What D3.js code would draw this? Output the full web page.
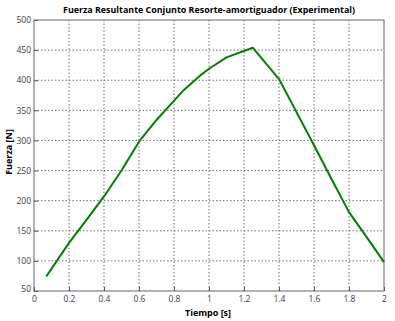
<!DOCTYPE html>
<html>
<head>
<meta charset="utf-8">
<script src="https://cdn.jsdelivr.net/npm/d3@7"></script>
<style>
  body { margin: 0; background: #fff; }
  text { font-family: "Open Sans", "DejaVu Sans", sans-serif; }
</style>
</head>
<body>
<svg width="395" height="321"></svg>
<script>
// data
let tiempo = [0.07, 0.2, 0.3, 0.4, 0.5, 0.6, 0.7, 0.75, 0.85, 0.95, 1.0, 1.1, 1.25, 1.4, 1.5, 1.6, 1.7, 1.8, 1.9, 2.0];
let fuerza = [74, 130, 168, 207, 250, 298, 334, 350, 382, 408, 419, 438, 454, 402, 347, 292, 236, 181, 140, 98];
let xTicks = [0, 0.2, 0.4, 0.6, 0.8, 1, 1.2, 1.4, 1.6, 1.8, 2];
let yTicks = [50, 100, 150, 200, 250, 300, 350, 400, 450, 500];
let title = "Fuerza Resultante Conjunto Resorte-amortiguador (Experimental)";

let margin = {left: 34, right: 11, top: 20, bottom: 30},
    svgWidth = 395,
    svgHeight = 321;

let svg = d3.select("svg");

let x = d3.scaleLinear().domain([0, 2]).range([margin.left, svgWidth - margin.right]);
let y = d3.scaleLinear().domain([50, 500]).range([svgHeight - margin.bottom, margin.top]);

// grid
svg.append("g").selectAll("line").data(xTicks.slice(1, -1)).enter()
  .append("line")
    .attr("x1", d => x(d)).attr("x2", d => x(d))
    .attr("y1", y(50)).attr("y2", y(500))
    .attr("stroke", "#6e6e6e").attr("stroke-width", 1)
    .attr("stroke-dasharray", "1.5,2");
svg.append("g").selectAll("line").data(yTicks.slice(1, -1)).enter()
  .append("line")
    .attr("x1", x(0)).attr("x2", x(2))
    .attr("y1", d => y(d)).attr("y2", d => y(d))
    .attr("stroke", "#6e6e6e").attr("stroke-width", 1)
    .attr("stroke-dasharray", "1.5,2");

// axes with inward ticks
let xAxis = svg.append("g")
  .attr("transform", "translate(0," + y(50) + ")")
  .call(d3.axisBottom(x).tickValues(xTicks).tickFormat(d3.format("")).tickSizeInner(-4).tickSizeOuter(0).tickPadding(5));
let yAxis = svg.append("g")
  .attr("transform", "translate(" + x(0) + ",0)")
  .call(d3.axisLeft(y).tickValues(yTicks).tickSizeInner(-4).tickSizeOuter(0).tickPadding(3));
[xAxis, yAxis].forEach(a => {
  a.select(".domain").remove();
  a.selectAll("line").attr("stroke", "#555");
  a.selectAll("text").attr("fill", "#3a3a48").style("font-size", "8.5px");
});
yAxis.selectAll(".tick").filter(d => d === 50).select("text").attr("dy", "0.05em");

// box
svg.append("rect")
  .attr("x", x(0)).attr("y", y(500))
  .attr("width", x(2) - x(0)).attr("height", y(50) - y(500))
  .attr("fill", "none").attr("stroke", "#666").attr("stroke-width", 1);

// line
let line = d3.line().x((d, i) => x(tiempo[i])).y(d => y(d));
svg.append("path")
  .attr("d", line(fuerza))
  .attr("fill", "none").attr("stroke", "#008000").attr("stroke-width", 2)
  .attr("stroke-linejoin", "round");

// labels
svg.append("text")
  .attr("x", 209).attr("y", 13)
  .attr("text-anchor", "middle")
  .attr("textLength", 292).attr("lengthAdjust", "spacingAndGlyphs")
  .style("font-size", "9.5px").style("font-weight", "bold")
  .text(title);

svg.append("text")
  .attr("x", 208).attr("y", 316)
  .attr("text-anchor", "middle")
  .style("font-size", "9px").style("font-weight", "bold")
  .text("Tiempo [s]");

svg.append("text")
  .attr("transform", "translate(12,152) rotate(-90)")
  .attr("text-anchor", "middle")
  .style("font-size", "9px").style("font-weight", "bold")
  .text("Fuerza [N]");
</script>
</body>
</html>
